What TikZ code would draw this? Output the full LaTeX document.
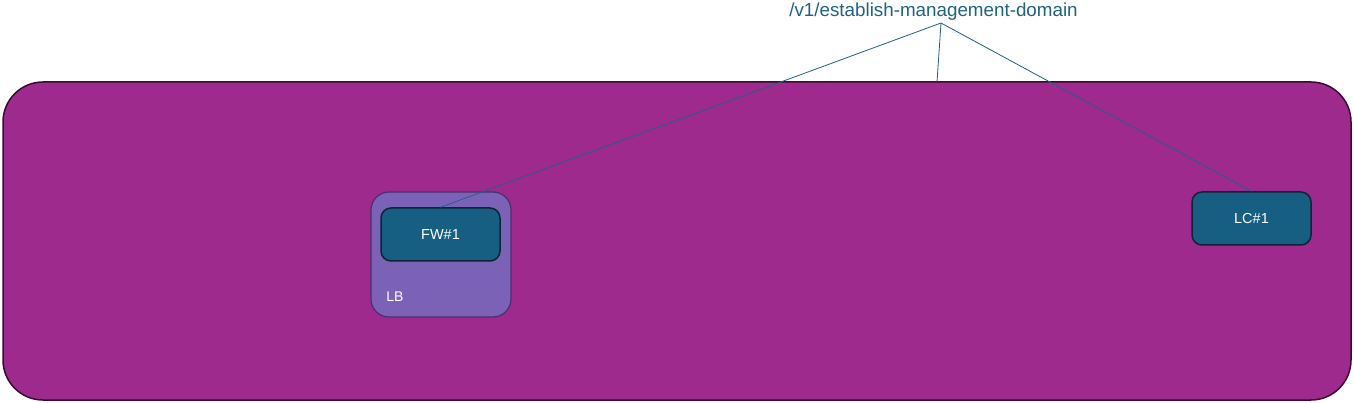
\documentclass[tikz,border=0pt]{standalone}
\usepackage{fontspec}
\setmainfont{Liberation Sans}
\usetikzlibrary{positioning}
\definecolor{domainfill}{HTML}{9E2A8E}
\definecolor{domainline}{HTML}{3A0A35}
\definecolor{lbfill}{HTML}{7B62B6}
\definecolor{lbline}{HTML}{4A2F6E}
\definecolor{devfill}{HTML}{165F82}
\definecolor{devline}{HTML}{0B2535}
\definecolor{apiblue}{HTML}{1F6283}
\tikzset{%
  mgmtdomain/.style={draw=domainline, fill=domainfill, line width=1.5pt,
    rounded corners=40pt, minimum width=1348pt, minimum height=318pt},
  lbbox/.style={draw=lbline, fill=lbfill, line width=1.2pt,
    rounded corners=18pt, minimum width=140pt, minimum height=125pt},
  device/.style={draw=devline, fill=devfill, line width=1.5pt,
    rounded corners=10pt, minimum width=119pt, minimum height=53pt,
    text=white, font=\fontsize{14.5}{16}\selectfont},
  api/.style={draw=apiblue, line width=0.8pt}
}

\begin{document}
\begin{tikzpicture}[x=1pt, y=-1pt]
    \useasboundingbox (0,0) rectangle (1354,403);

    \node [mgmtdomain] (dom) at (677,241) {};
    \node [lbbox] (lb) at (441,254.5) {};
    \node [text=white, font=\fontsize{14}{16}\selectfont] (lblabel) at (395,297) {LB};
    \node [device] (fw) at (440.5,234.5) {FW\#1};
    \node [device] (lc) at (1251.5,218.5) {LC\#1};

    \node [text=apiblue, font=\fontsize{18.8}{22}\selectfont] (api) at (933.5,12) {/v1/establish-management-domain};
    \coordinate (apex) at (941,23);
    \coordinate (domtop) at (937,82);

    \draw [api] (apex) -- (fw.north);
    \draw [api] (apex) -- (domtop);
    \draw [api] (apex) -- (lc.north);
\end{tikzpicture}
\end{document}
